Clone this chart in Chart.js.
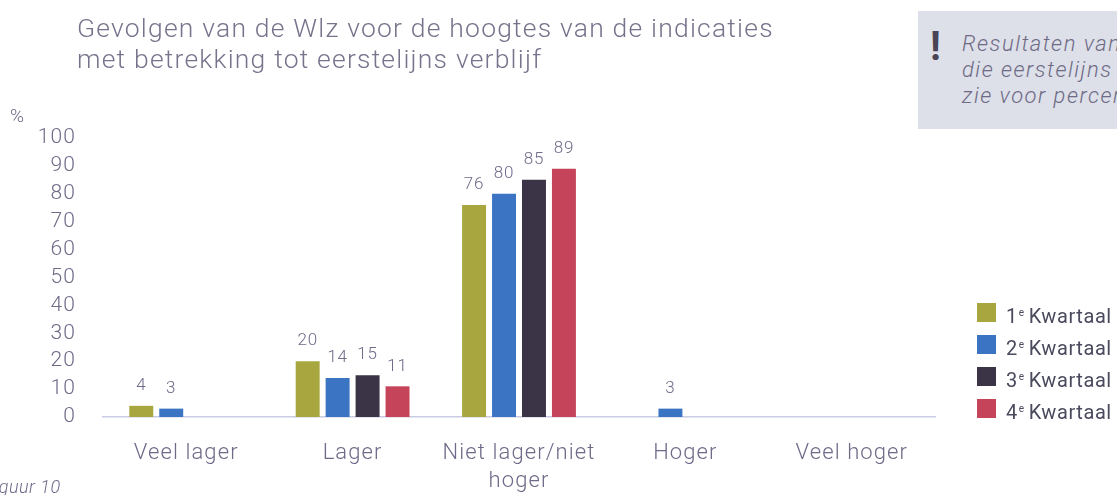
<!DOCTYPE html>
<html>
<head>
<meta charset="utf-8">
<script src="https://cdn.jsdelivr.net/npm/chart.js@4"></script>
<style>
  html, body { margin: 0; padding: 0; background: #fff; }
  body { width: 1117px; height: 495px; overflow: hidden; position: relative; font-family: Roboto, "DejaVu Sans", sans-serif; }
  #wrap { position: absolute; left: 0; top: 0; width: 1117px; height: 495px; }
  .title { position: absolute; left: 77px; top: 12px; font-size: 26.5px; font-weight: 300; color: #76748c; line-height: 31px; letter-spacing: 1.2px; white-space: nowrap; }
  .pct { position: absolute; left: 10px; top: 104px; font-size: 19px; font-weight: 300; color: #6e6a88; }
  .note { position: absolute; left: 918px; top: 11px; width: 220px; height: 118px; background: #dde0e9; }
  .note .bang { position: absolute; left: 12px; top: 14px; font-size: 40px; font-weight: 700; color: #4a4455; line-height: 44px; }
  .note .txt { position: absolute; left: 44px; top: 20px; font-size: 22px; font-style: italic; font-weight: 300; color: #6e6a85; line-height: 26px; letter-spacing: 1.5px; white-space: nowrap; }
  .legend { position: absolute; left: 977px; top: 303px; }
  .legend .row { height: 32px; display: flex; align-items: flex-start; white-space: nowrap; }
  .legend .box { width: 19px; height: 19px; margin-right: 10px; }
  .legend .lab { font-size: 20px; color: #4a4a5e; line-height: 19px; letter-spacing: 0.6px; }
  .legend sup { font-size: 10px; vertical-align: 7px; margin-right: 4px; margin-left: 1px; }
  .fig { position: absolute; left: -16px; top: 476px; font-size: 18px; font-style: italic; font-weight: 300; color: #6e6a88; letter-spacing: 0.5px; }
</style>
</head>
<body>
<div id="wrap"><canvas id="chart" width="1117" height="495"></canvas></div>
<div class="title">Gevolgen van de Wlz voor de hoogtes van de indicaties<br>met betrekking tot eerstelijns verblijf</div>
<div class="pct">%</div>
<div class="note">
  <div class="bang">!</div>
  <div class="txt">Resultaten van de vragenlijst<br>die eerstelijns verblijf leveren,<br>zie voor percentages bijlage</div>
</div>
<div class="legend" id="legend"></div>
<div class="fig">Figuur 10</div>

<script>
/* ================================
   DATA
================================ */
const categories = ["Veel lager", "Lager", ["Niet lager/niet", "hoger"], "Hoger", "Veel hoger"];
const seriesNames = ["1", "2", "3", "4"];
const q1 = [4, 20, 76, 0, 0];
const q2 = [3, 14, 80, 3, 0];
const q3 = [0, 15, 85, 0, 0];
const q4 = [0, 11, 89, 0, 0];
const yTicks = [0, 10, 20, 30, 40, 50, 60, 70, 80, 90, 100];

const colors = ["#a8a63e", "#3c74c4", "#3b3346", "#c6445a"];
const textColor = "#6e6a88";

/* ================================
   LEGEND (HTML, superscript e)
================================ */
const legend = document.getElementById("legend");
seriesNames.forEach((n, i) => {
    const row = document.createElement("div");
    row.className = "row";
    row.innerHTML = '<div class="box" style="background:' + colors[i] + '"></div>' +
        '<div class="lab">' + n + '<sup>e</sup>Kwartaal</div>';
    legend.appendChild(row);
});

/* ================================
   WIDER TEXT + VALUE LABELS
================================ */
const spacing = {
    id: "spacing",
    beforeDraw(chart) { chart.ctx.letterSpacing = "1.1px"; }
};

const valueLabels = {
    id: "valueLabels",
    afterDatasetsDraw(chart) {
        const ctx = chart.ctx;
        ctx.save();
        ctx.letterSpacing = "0.8px";
        ctx.font = "300 17px Roboto";
        ctx.fillStyle = textColor;
        ctx.textAlign = "center";
        ctx.textBaseline = "middle";
        chart.data.datasets.forEach((ds, di) => {
            chart.getDatasetMeta(di).data.forEach((bar, i) => {
                const v = ds.data[i];
                if (!v) return;
                ctx.fillText(String(v), bar.x, bar.y - 20);
            });
        });
        ctx.restore();
    }
};

const allSeries = [q1, q2, q3, q4];

new Chart(document.getElementById("chart"), {
    type: "bar",
    data: {
        labels: categories,
        datasets: allSeries.map((d, i) => ({
            label: seriesNames[i] + "e Kwartaal",
            data: d,
            backgroundColor: colors[i],
            borderWidth: 0,
            categoryPercentage: 0.72,
            barPercentage: 0.8
        }))
    },
    options: {
        responsive: false,
        animation: false,
        layout: { padding: { left: 0, right: 182, top: 138, bottom: 0 } },
        plugins: {
            legend: { display: false },
            tooltip: { enabled: false }
        },
        scales: {
            x: {
                grid: { display: true, color: "rgba(0,0,0,0)", drawTicks: false },
                border: { display: true, color: "#c9cce2", width: 1.5 },
                ticks: {
                    color: textColor,
                    font: { family: "Roboto", size: 22, weight: 300, lineHeight: 1.3 },
                    padding: 22,
                    maxRotation: 0,
                    autoSkip: false
                },
                afterFit(scale) { scale.height = 78; }
            },
            y: {
                min: 0,
                max: 100,
                afterBuildTicks(scale) { scale.ticks = yTicks.map(v => ({ value: v })); },
                grid: { display: false, drawTicks: false },
                border: { display: false },
                ticks: {
                    color: textColor,
                    font: { family: "Roboto", size: 21, weight: 300 },
                    padding: 27,
                    autoSkip: false
                },
                afterFit(scale) { scale.width = 103; }
            }
        }
    },
    plugins: [spacing, valueLabels]
});
</script>
</body>
</html>
